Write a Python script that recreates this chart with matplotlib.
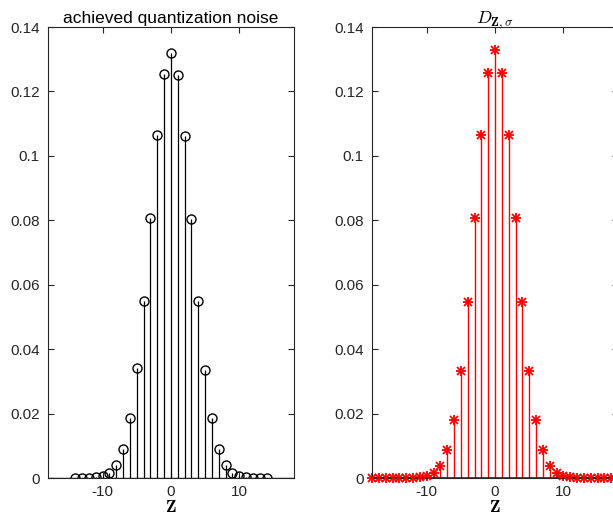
import matplotlib.pyplot as plt
import numpy as np

plt.rcParams['font.family'] = ['Liberation Sans', 'DejaVu Sans']
plt.rcParams['mathtext.fontset'] = 'cm'
plt.rcParams['axes.unicode_minus'] = False

# achieved quantization noise, z = -14..14
z_left = np.arange(-14, 15)
p_left = [0.0, 0.0, 0.0, 0.0002, 0.0006, 0.0017, 0.0040, 0.0090, 0.0185,
          0.0340, 0.0550, 0.0808, 0.1065, 0.1255, 0.1318, 0.1250, 0.1062,
          0.0805, 0.0550, 0.0335, 0.0185, 0.0090, 0.0040, 0.0015, 0.0006,
          0.0002, 0.0, 0.0, 0.0]

# discrete gaussian D_{Z,sigma}, z = -18..18
z_right = np.arange(-18, 19)
p_half = [0.1330, 0.1258, 0.1065, 0.0807, 0.0547, 0.0332, 0.0180, 0.0088,
          0.0038, 0.0015, 0.0005, 0.0002, 0.0, 0.0, 0.0, 0.0, 0.0, 0.0, 0.0]
p_right = p_half[:0:-1] + p_half

yticks = [0, 0.02, 0.04, 0.06, 0.08, 0.1, 0.12, 0.14]
ytick_labels = ['0', '0.02', '0.04', '0.06', '0.08', '0.1', '0.12', '0.14']
xticks = [-10, 0, 10]

axcol = '#262626'

fig = plt.figure(figsize=(6.13, 5.16), dpi=100)
ax1 = fig.add_axes([0.0783, 0.0736, 0.4013, 0.874])
ax2 = fig.add_axes([0.6069, 0.0736, 0.4013, 0.874])

# left: black circles
m, s, b = ax1.stem(z_left, p_left, linefmt='k-', markerfmt='o', basefmt='-')
m.set_markerfacecolor('none')
m.set_markeredgecolor('k')
m.set_markersize(6.5)
m.set_markeredgewidth(1.0)
s.set_linewidth(0.9)
b.set_color(axcol)
b.set_linewidth(1.0)
b.set_xdata([-18, 18])

# right: red asterisks (plus + cross, like matlab '*')
m, s, b = ax2.stem(z_right, p_right, linefmt='r-', markerfmt='r+', basefmt='-')
m.set_markersize(7)
m.set_markeredgewidth(1.3)
ax2.plot(z_right, p_right, 'rx', markersize=5.5, markeredgewidth=1.3,
         clip_on=False, zorder=3)
m.set_clip_on(False)
s.set_linewidth(1.0)
b.set_color(axcol)
b.set_linewidth(1.2)
b.set_xdata([-18, 18])

for ax in (ax1, ax2):
    ax.set_xlim(-18, 18)
    ax.set_ylim(0, 0.14)
    ax.set_xticks(xticks)
    ax.set_yticks(yticks)
    ax.set_yticklabels(ytick_labels)
    ax.tick_params(direction='in', top=True, right=True, labelsize=11,
                   colors=axcol, length=4, width=0.8)
    ax.tick_params(axis='x', pad=5)
    ax.tick_params(axis='y', pad=6)
    for sp in ax.spines.values():
        sp.set_color(axcol)
        sp.set_linewidth(0.8)
    ax.set_xlabel(r'$\mathbf{Z}$', fontsize=12.5, labelpad=0)

ax1.set_title('achieved quantization noise', fontsize=12.5, pad=3)
ax2.set_title(r'$D_{\mathbf{Z},\sigma}$', fontsize=13, pad=3)

fig.savefig('out.png', dpi=100)
